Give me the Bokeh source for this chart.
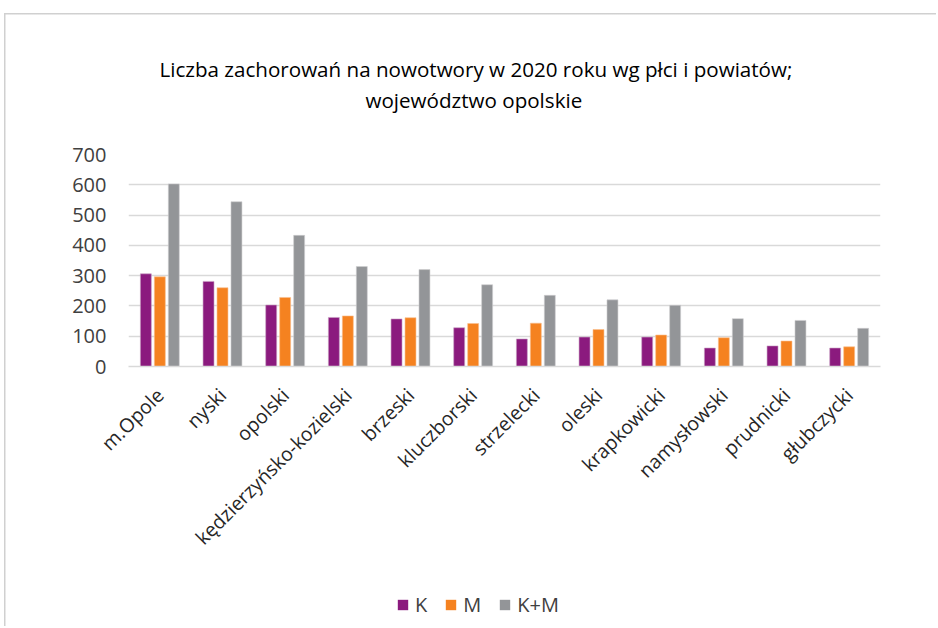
from bokeh.plotting import figure
from bokeh.layouts import column
from bokeh.models import ColumnDataSource, FactorRange, Range1d, Legend, LegendItem, Title, FixedTicker
from bokeh.transform import dodge
from bokeh.embed import file_html
from bokeh.resources import INLINE

categories = ["m.Opole", "nyski", "opolski", "kędzierzyńsko-kozielski", "brzeski",
              "kluczborski", "strzelecki", "oleski", "krapkowicki", "namysłowski",
              "prudnicki", "głubczycki"]
K = [306, 281, 203, 162, 157, 128, 91, 97, 97, 61, 68, 61]
M = [296, 260, 228, 167, 161, 142, 143, 122, 104, 95, 84, 65]
KM = [603, 544, 433, 330, 320, 270, 235, 220, 202, 158, 152, 126]
y_ticks = [0, 100, 200, 300, 400, 500, 600, 700]
title_lines = ["Liczba zachorowań na nowotwory w 2020 roku wg płci i powiatów;",
               "województwo opolskie"]
series_names = ["K", "M", "K+M"]
series_cols = ["K", "M", "KM"]
colors = ["#8B1A7E", "#F58220", "#939598"]
edge_colors = ["#C9A3C4", "#F9C08F", "#CFCFD0"]

FONT = "Open Sans"
W = 936
BL, BR = 128, 56   # shared left/right borders (the column aligns them)
LINE = "linear-gradient(#D0D0D0, #D0D0D0)"


def blank(fig):
    fig.outline_line_color = None
    fig.border_fill_color = None
    fig.background_fill_color = None
    fig.xgrid.visible = False
    fig.ygrid.visible = False


src = ColumnDataSource(dict(cat=categories, K=K, M=M, KM=KM))

# ---------- title strip ----------
ft = figure(width=W, height=128, output_backend="svg", toolbar_location=None,
            x_axis_type=None, y_axis_type=None,
            min_border_left=BL, min_border_right=BR, min_border_top=114, min_border_bottom=0)
blank(ft)
ft.styles = {"background": (f"{LINE} 4px 13px / 1.5px 700px no-repeat, "
                            f"{LINE} 4px 13px / 1000px 1.5px no-repeat, #FFFFFF")}
# second line first: it sits closest to the frame
for line, so, xo in ((title_lines[1], 2, 237), (title_lines[0], 0, 31)):
    ft.add_layout(Title(text=line, align="left", offset=xo, vertical_align="bottom",
                        standoff=so, text_font=FONT, text_font_size="20.6px",
                        text_font_style="normal", text_color="#000000"), "above")

# ---------- chart ----------
p = figure(width=W, height=447, x_range=FactorRange(*categories, range_padding=0),
           y_range=(0, 700), output_backend="svg", toolbar_location=None,
           min_border_left=BL, min_border_right=BR, min_border_top=26,
           min_border_bottom=209)
p.outline_line_color = None
p.border_fill_color = None
p.background_fill_color = None
p.styles = {"background": f"{LINE} 4px 0px / 1.5px 1000px no-repeat, #FFFFFF"}

w = 0.175
offsets = [-0.223, 0.0, 0.223]
for col, o, c, e in zip(series_cols, offsets, colors, edge_colors):
    p.vbar(x=dodge("cat", o, range=p.x_range), top=col, width=w, source=src,
           fill_color=c, line_color=e, line_width=0.6)

p.xgrid.grid_line_color = None
p.ygrid.grid_line_color = "#D9D9D9"
p.ygrid.grid_line_width = 1.5
p.yaxis.ticker = FixedTicker(ticks=y_ticks)
p.yaxis.axis_line_color = None
p.yaxis.major_tick_line_color = None
p.yaxis.minor_tick_line_color = None
p.yaxis.major_label_text_font = FONT
p.yaxis.major_label_text_font_size = "20px"
p.yaxis.major_label_text_color = "#404040"
p.yaxis.major_label_standoff = 16

p.xaxis.axis_line_color = "#D9D9D9"
p.xaxis.axis_line_width = 1.5
p.xaxis.major_tick_line_color = None
p.xaxis.minor_tick_line_color = None
p.xaxis.major_label_orientation = 0.785398
p.xaxis.major_label_text_font = FONT
p.xaxis.major_label_text_font_size = "19.5px"
p.xaxis.major_label_text_color = "#262626"
p.xaxis.major_label_standoff = 19

# ---------- legend strip (same series, kept out of view; only the key shows) ----------
fl = figure(width=W, height=51, output_backend="svg", toolbar_location=None,
            x_range=FactorRange(*categories), y_range=Range1d(5000, 6000),
            x_axis_type=None, y_axis_type=None,
            min_border_left=BL, min_border_right=BR, min_border_top=0, min_border_bottom=0)
blank(fl)
fl.styles = {"background": f"{LINE} 4px 0px / 1.5px 1000px no-repeat, #FFFFFF"}
lr = [fl.vbar(x="cat", top=col, width=0, source=src, fill_color=c, line_color=None)
      for col, c in zip(series_cols, colors)]
legend = Legend(items=[LegendItem(label=n, renderers=[r]) for n, r in zip(series_names, lr)],
                orientation="horizontal", location=(268, 8),
                border_line_color=None, background_fill_alpha=0,
                label_text_font=FONT, label_text_font_size="20px",
                label_text_color="#404040", glyph_width=13, glyph_height=13,
                label_width=0, spacing=17, label_standoff=6, padding=4, margin=0)
fl.add_layout(legend, "center")

layout = column(ft, p, fl, spacing=0)
open("out.html", "w").write(file_html(layout, INLINE))
